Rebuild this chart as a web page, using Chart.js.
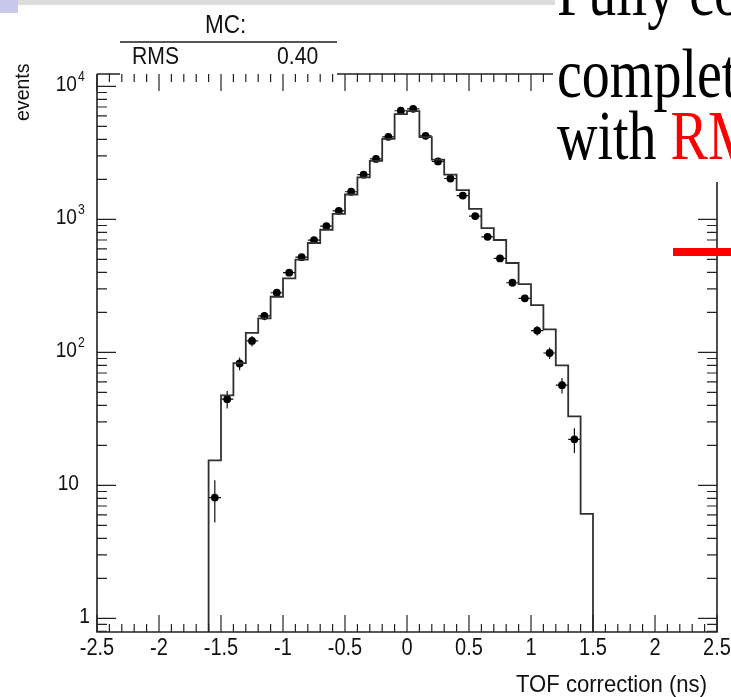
<!DOCTYPE html>
<html>
<head>
<meta charset="utf-8">
<title>TOF correction</title>
<script src="https://cdn.jsdelivr.net/npm/chart.js@4.4.1/dist/chart.umd.min.js"></script>
<style>
  html, body { margin: 0; padding: 0; background: #fff; }
  #wrap { position: relative; width: 731px; height: 697px; overflow: hidden;
          font-family: "Liberation Sans", Arial, sans-serif; color: #111; }
  #tof { position: absolute; left: 0; top: 0; }
  .t { position: absolute; white-space: nowrap; line-height: 1; transform-origin: 0 0; }
  .slide { font-family: "Liberation Serif", "Times New Roman", serif; font-size: 56px; color: #000;
           transform: scaleY(1.25); transform-origin: 0 50px; }
</style>
</head>
<body>
<div id="wrap">
  <canvas id="tof" width="731" height="697"></canvas>

  <!-- stats box -->
  <div class="t" style="left:205px; top:12px; font-size:25px; transform:scaleX(0.9);">MC:</div>
  <div style="position:absolute; left:120px; top:41px; width:217px; height:2px; background:#555;"></div>
  <div class="t" style="left:132px; top:45px; font-size:23px; transform:scaleX(0.92);">RMS</div>
  <div class="t" style="left:277px; top:45px; font-size:23px; transform:scaleX(0.92);">0.40</div>

  <!-- axis titles -->
  <div class="t" style="left:516px; top:672px; font-size:24px; transform:scaleX(0.92);">TOF correction (ns)</div>
  <div class="t" style="left:11px; top:121px; font-size:21px; transform:rotate(-90deg) scaleX(0.93);">events</div>

  <!-- slide overlay -->
  <div style="position:absolute; left:0; top:0; width:18px; height:13px; background:#c9c9ee;"></div>
  <div style="position:absolute; left:18px; top:0; width:537px; height:5px; background:#dcdcdc;"></div>
  <div style="position:absolute; left:555px; top:0; width:176px; height:180px; background:#fff;"></div>
  <div class="t slide" style="left:557px; top:-31px;">Fully co</div>
  <div class="t slide" style="left:557px; top:51px;">complet</div>
  <div class="t slide" style="left:557px; top:113px;">with <span style="color:#f00;">RM</span></div>
  <div style="position:absolute; left:673px; top:248px; width:58px; height:8px; background:#f00;"></div>
</div>

<script>
'use strict';

/* ── data ─────────────────────────────────── */
// bin edges: 0.1 ns wide, -1.6 … 1.5
const binLow   = [-1.6,-1.5,-1.4,-1.3,-1.2,-1.1,-1.0,-0.9,-0.8,-0.7,-0.6,-0.5,-0.4,-0.3,-0.2,-0.1,
                   0.0, 0.1, 0.2, 0.3, 0.4, 0.5, 0.6, 0.7, 0.8, 0.9, 1.0, 1.1, 1.2, 1.3, 1.4];
const binWidth = 0.1;

// MC histogram (events per bin)
const mcCounts = [15.4, 47.5, 83, 140, 180, 262, 360, 498, 665, 836, 1100, 1540, 2070, 2760, 4030, 6200,
                  6530, 4150, 2820, 2170, 1660, 1200, 860, 700, 470, 326, 227, 149, 80, 33, 6.1];

// data points (bin centres)
const dataX      = [-1.55,-1.45,-1.35,-1.25,-1.15,-1.05,-0.95,-0.85,-0.75,-0.65,-0.55,-0.45,-0.35,-0.25,-0.15,-0.05,
                     0.05, 0.15, 0.25, 0.35, 0.45, 0.55, 0.65, 0.75, 0.85, 0.95, 1.05, 1.15, 1.25, 1.35];
const dataCounts = [8.1, 44.5, 82.5, 122, 188, 281, 398, 520, 699, 891, 1160, 1614, 2170, 2850, 4180, 6560,
                    6780, 4250, 2730, 2030, 1510, 1060, 740, 509, 334, 255, 146, 99, 56.7, 22.2];

// axes
const xMin = -2.5, xMax = 2.5;
const yMin = 0.79, yMax = 12400;
const xTicks      = [-2.5, -2, -1.5, -1, -0.5, 0, 0.5, 1, 1.5, 2, 2.5];
const xTickLabels = ['-2.5','-2','-1.5','-1','-0.5','0','0.5','1','1.5','2','2.5'];
const yTicks      = [1, 10, 100, 1000, 10000];
const yTickBase   = ['1', '10', '10', '10', '10'];
const yTickExp    = ['', '', '2', '3', '4'];

const LABEL_FONT = '"Liberation Sans", Arial, sans-serif';

/* ── helpers ──────────────────────────────── */
function mcOutline() {
  const pts = [{ x: binLow[0], y: yMin }];
  binLow.forEach((lo, i) => pts.push({ x: lo, y: mcCounts[i] }));
  const hi = binLow[binLow.length - 1] + binWidth;
  pts.push({ x: hi, y: mcCounts[mcCounts.length - 1] });
  pts.push({ x: hi, y: yMin });
  return pts;
}

// condensed text, as in the original picture
function label(ctx, txt, px, py, size, align) {
  ctx.save();
  ctx.translate(px, py);
  ctx.scale(0.87, 1);
  ctx.font = size + 'px ' + LABEL_FONT;
  ctx.textAlign = align;
  ctx.textBaseline = 'middle';
  ctx.fillText(txt, 0, 0);
  ctx.restore();
}

/* ── ROOT-like frame, ticks, error bars ───── */
const rootAxes = {
  id: 'rootAxes',
  beforeDatasetsDraw(chart) {
    // error bars under the markers
    const { ctx, scales: { x, y } } = chart;
    ctx.save();
    ctx.strokeStyle = '#111';
    ctx.lineWidth = 1.2;
    dataX.forEach((cx, i) => {
      const v = dataCounts[i], e = Math.sqrt(v);
      const px = x.getPixelForValue(cx), py = y.getPixelForValue(v);
      ctx.beginPath();
      ctx.moveTo(px, y.getPixelForValue(v + e));
      ctx.lineTo(px, y.getPixelForValue(Math.max(v - e, yMin)));
      ctx.moveTo(x.getPixelForValue(cx - binWidth / 2), py);
      ctx.lineTo(x.getPixelForValue(cx + binWidth / 2), py);
      ctx.stroke();
    });
    ctx.restore();
  },
  afterDatasetsDraw(chart) {
    const { ctx, chartArea: a, scales: { x, y } } = chart;
    ctx.save();
    ctx.strokeStyle = '#222';
    ctx.lineWidth = 1.6;

    // frame (top line hidden under stats box and slide text)
    ctx.beginPath();
    ctx.moveTo(a.left, a.top); ctx.lineTo(a.left, a.bottom); ctx.lineTo(a.right, a.bottom);
    ctx.lineTo(a.right, 182);
    ctx.moveTo(a.left, a.top); ctx.lineTo(120, a.top);
    ctx.moveTo(337, a.top); ctx.lineTo(553, a.top);
    ctx.stroke();

    ctx.lineWidth = 1.2;
    ctx.beginPath();
    // x ticks: major 0.5, minor 0.1
    for (let k = 0; k <= 50; k++) {
      const v = xMin + k * 0.1;
      const px = x.getPixelForValue(v);
      const len = (k % 5 === 0) ? 17 : 8;
      ctx.moveTo(px, a.bottom); ctx.lineTo(px, a.bottom - len);
      if (px < 553) { ctx.moveTo(px, a.top); ctx.lineTo(px, a.top + len); }
    }
    // y ticks: decades + 2..9
    for (let d = 0.1; d <= 10000; d *= 10) {
      for (let m = 1; m <= 9; m++) {
        const v = d * m;
        if (v < yMin || v > yMax) continue;
        const py = y.getPixelForValue(v);
        const len = (m === 1) ? 19 : 10;
        ctx.moveTo(a.left, py); ctx.lineTo(a.left + len, py);
        if (py > 182) { ctx.moveTo(a.right, py); ctx.lineTo(a.right - len, py); }
      }
    }
    ctx.stroke();

    // tick labels
    ctx.fillStyle = '#111';
    xTicks.forEach((v, i) => label(ctx, xTickLabels[i], x.getPixelForValue(v), a.bottom + 17, 23, 'center'));

    yTicks.forEach((v, i) => {
      const py = y.getPixelForValue(v);
      if (yTickExp[i]) {
        label(ctx, yTickBase[i], 77, py - 1, 22, 'right');
        label(ctx, yTickExp[i], 78, py - 9, 14, 'left');
      } else {
        label(ctx, yTickBase[i], i === 0 ? 90 : 79, py - 1, 22, 'right');
      }
    });
    ctx.restore();
  }
};

/* ── chart ────────────────────────────────── */
const tofChart = new Chart(document.getElementById('tof').getContext('2d'), {
  type: 'scatter',
  data: {
    datasets: [
      {
        type: 'line',
        label: 'MC',
        data: mcOutline(),
        stepped: 'before',
        borderColor: '#303030',
        borderWidth: 1.8,
        pointRadius: 0,
        fill: false,
      },
      {
        type: 'scatter',
        label: 'data',
        data: dataX.map((cx, i) => ({ x: cx, y: dataCounts[i] })),
        pointRadius: 3.9,
        backgroundColor: '#000',
        borderWidth: 0,
      },
    ],
  },
  options: {
    responsive: false,
    animation: false,
    devicePixelRatio: 1,
    layout: { padding: { left: 97, right: 14, top: 74, bottom: 65 } },
    plugins: { legend: { display: false }, tooltip: { enabled: false } },
    scales: {
      x: { type: 'linear', min: xMin, max: xMax, display: false },
      y: { type: 'logarithmic', min: yMin, max: yMax, display: false },
    },
  },
  plugins: [rootAxes],
});
</script>
</body>
</html>
